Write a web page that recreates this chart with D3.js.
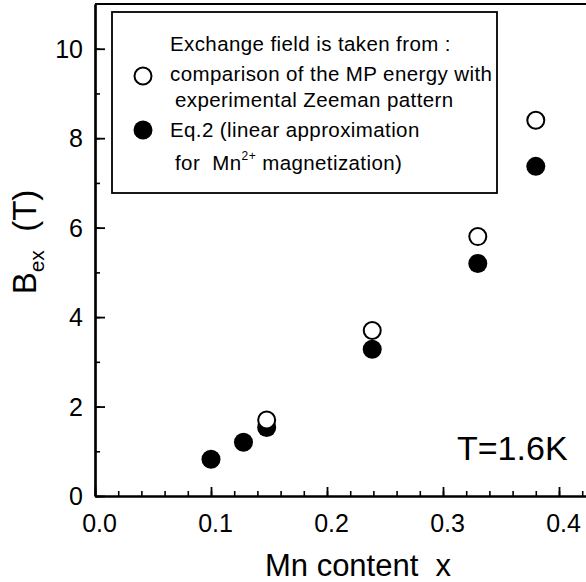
<!DOCTYPE html>
<html>
<head>
<meta charset="utf-8">
<script src="https://cdn.jsdelivr.net/npm/d3@7"></script>
<style>
    body { margin: 0; background: #fff; }
    svg text { font-family: "Liberation Sans", Arial, sans-serif; fill: #000; white-space: pre; }
</style>
</head>
<body>
<div id="chart"></div>
<script>

// Mn content x
let mnOpen = [0.148, 0.239, 0.330, 0.380];
let mnFilled = [0.100, 0.128, 0.148, 0.239, 0.330, 0.380];

// exchange field B_ex (T)
let bexOpen = [1.70, 3.70, 5.80, 8.40];      // MP energy vs. Zeeman pattern
let bexFilled = [0.82, 1.20, 1.53, 3.28, 5.20, 7.37];   // Eq.2 linear approx.

let xTicks = [0.0, 0.1, 0.2, 0.3, 0.4];
let yTicks = [0, 2, 4, 6, 8, 10];

let legendLines = [
    "Exchange field is taken from :",
    "comparison of the MP energy with",
    "experimental Zeeman pattern",
    "Eq.2 (linear approximation"
];

class bexChart {

    constructor(parentElement) {
        this.parentElement = parentElement;
        this.initVis();
    }

    initVis() {
        let vis = this;

        vis.width = 586;
        vis.height = 582;

        vis.svg = d3.select("#" + vis.parentElement).append("svg")
            .attr("width", vis.width)
            .attr("height", vis.height);

        // right frame runs off the picture, so the domain goes past 0.4
        vis.x = d3.scaleLinear().domain([0, 0.45]).range([95, 95 + 0.45 * 1160]);
        vis.y = d3.scaleLinear().domain([0, 11]).range([496, 4]);

        vis.drawAxes();
        vis.drawPoints();
        vis.drawLegend();
    }

    drawAxes() {
        let vis = this;
        let x0 = vis.x.range()[0], x1 = vis.x.range()[1];
        let y0 = vis.y.range()[0], y1 = vis.y.range()[1];

        // x axis, ticks pointing inward
        let xAxis = d3.axisBottom(vis.x)
            .tickValues(d3.range(0, 0.451, 0.02))
            .tickSizeInner(-5)
            .tickSizeOuter(0)
            .tickFormat("");
        let gx = vis.svg.append("g")
            .attr("transform", `translate(0, ${y0})`)
            .call(xAxis);
        gx.selectAll("line").attr("stroke-width", 1.6);

        let xMajor = d3.axisBottom(vis.x)
            .tickValues(xTicks)
            .tickSizeInner(-9)
            .tickSizeOuter(0)
            .tickFormat(d3.format(".1f"));
        let gxm = vis.svg.append("g")
            .attr("transform", `translate(0, ${y0})`)
            .call(xMajor);
        gxm.selectAll("line").attr("stroke-width", 1.8);
        gxm.selectAll("text")
            .attr("font-size", 25)
            .attr("dx", 4)
            .attr("dy", 0)
            .attr("y", 36);

        // y axis
        let yAxis = d3.axisLeft(vis.y)
            .tickValues(d3.range(0, 11, 1))
            .tickSizeInner(-5)
            .tickSizeOuter(0)
            .tickFormat("");
        let gy = vis.svg.append("g")
            .attr("transform", `translate(${x0}, 0)`)
            .call(yAxis);
        gy.selectAll("line").attr("stroke-width", 1.6);

        let yMajor = d3.axisLeft(vis.y)
            .tickValues(yTicks)
            .tickSizeInner(-10)
            .tickSizeOuter(0)
            .tickFormat(d3.format("d"));
        let gym = vis.svg.append("g")
            .attr("transform", `translate(${x0}, 0)`)
            .call(yMajor);
        gym.selectAll("line").attr("stroke-width", 1.8);
        gym.selectAll("text")
            .attr("font-size", 25)
            .attr("x", -12)
            .attr("dy", "0.34em");

        vis.svg.selectAll(".domain").attr("stroke-width", 2.2);

        // top frame
        vis.svg.append("line")
            .attr("x1", x0).attr("x2", x1)
            .attr("y1", y1).attr("y2", y1)
            .attr("stroke", "#000")
            .attr("stroke-width", 2);

        // axis titles
        vis.svg.append("text")
            .attr("x", 358)
            .attr("y", 576)
            .attr("text-anchor", "middle")
            .attr("font-size", 31)
            .text("Mn content  x");

        let yTitle = vis.svg.append("text")
            .attr("transform", "translate(36, 242) rotate(-90)")
            .attr("text-anchor", "middle")
            .attr("font-size", 33);
        yTitle.append("tspan").text("B");
        yTitle.append("tspan").attr("font-size", 21).attr("dy", 8).text("ex");
        yTitle.append("tspan").attr("dy", -8).text("  (T)");

        vis.svg.append("text")
            .attr("x", 457)
            .attr("y", 460)
            .attr("font-size", 34)
            .text("T=1.6K");
    }

    drawPoints() {
        let vis = this;

        vis.svg.append("g").selectAll("circle")
            .data(d3.zip(mnFilled, bexFilled))
            .enter()
            .append("circle")
            .attr("cx", d => vis.x(d[0]))
            .attr("cy", d => vis.y(d[1]))
            .attr("r", 9.5)
            .attr("fill", "#000");

        vis.svg.append("g").selectAll("circle")
            .data(d3.zip(mnOpen, bexOpen))
            .enter()
            .append("circle")
            .attr("cx", d => vis.x(d[0]))
            .attr("cy", d => vis.y(d[1]))
            .attr("r", 8.5)
            .attr("fill", "#fff")
            .attr("stroke", "#000")
            .attr("stroke-width", 2);
    }

    drawLegend() {
        let vis = this;

        vis.svg.append("rect")
            .attr("x", 112).attr("y", 12)
            .attr("width", 385).attr("height", 181)
            .attr("fill", "#fff")
            .attr("stroke", "#000")
            .attr("stroke-width", 1.8);

        let lg = vis.svg.append("g")
            .attr("font-size", 20.5)
            .attr("letter-spacing", 0.4);

        let lineX = [170, 170, 175, 170];
        let lineY = [51, 81, 107, 137];
        lg.selectAll("text.lg")
            .data(legendLines)
            .enter()
            .append("text")
            .attr("class", "lg")
            .attr("x", (d, i) => lineX[i])
            .attr("y", (d, i) => lineY[i])
            .text(d => d);

        let last = lg.append("text").attr("x", 175).attr("y", 170);
        last.append("tspan").text("for  Mn");
        last.append("tspan").attr("font-size", 12).attr("dy", -10).text("2+");
        last.append("tspan").attr("dy", 10).text(" magnetization)");

        lg.append("circle")
            .attr("cx", 143).attr("cy", 76).attr("r", 8.5)
            .attr("fill", "#fff").attr("stroke", "#000").attr("stroke-width", 2);
        lg.append("circle")
            .attr("cx", 143).attr("cy", 130).attr("r", 9.5)
            .attr("fill", "#000");
    }
}

new bexChart("chart");
</script>
</body>
</html>
